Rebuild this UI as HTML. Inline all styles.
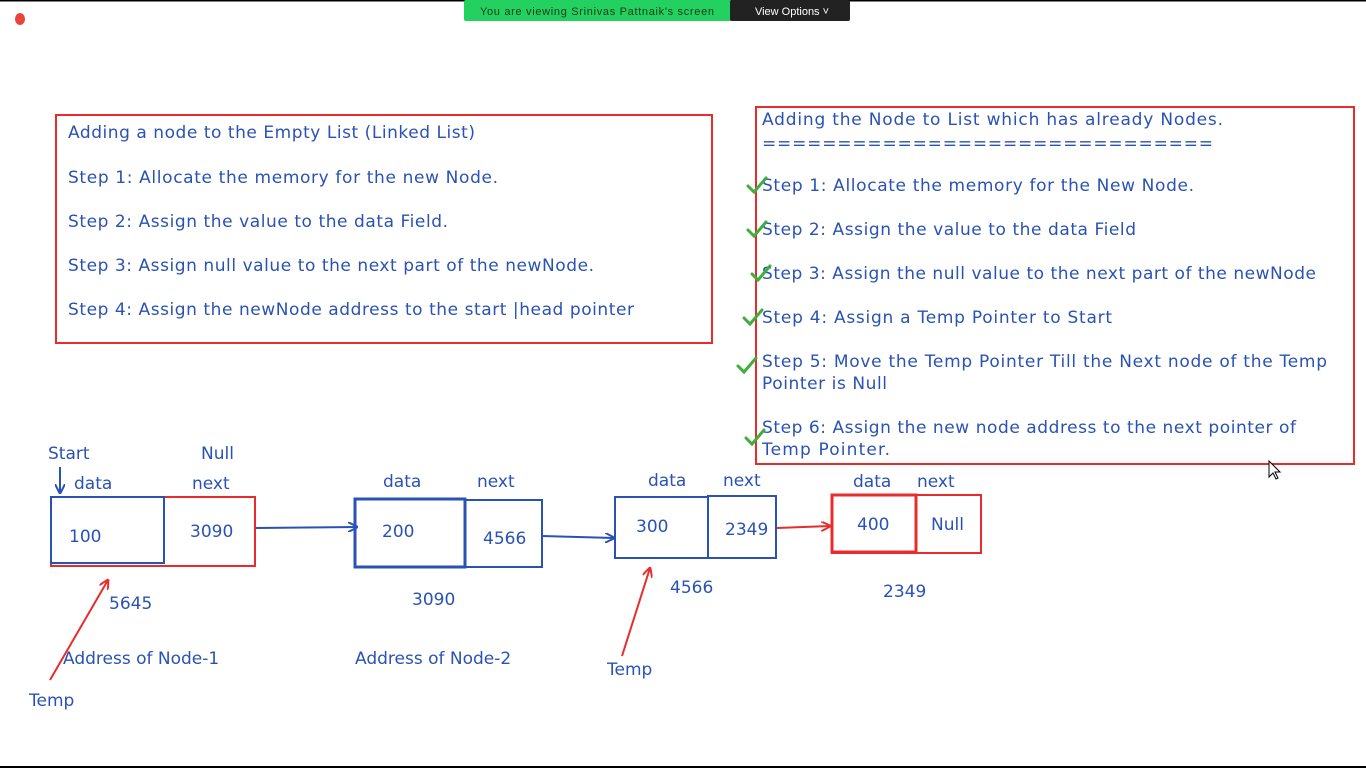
<!DOCTYPE html>
<html><head><meta charset="utf-8"><style>
html,body{margin:0;padding:0;background:#fff;width:1366px;height:768px;overflow:hidden}
svg{display:block}
text{font-family:"DejaVu Sans","Liberation Sans",sans-serif;fill:#2a52b5;font-size:17px}
</style></head><body>
<svg width="1366" height="768" viewBox="0 0 1366 768">
<defs>
<marker id="ab" markerWidth="10" markerHeight="10" refX="9" refY="5" orient="auto" markerUnits="userSpaceOnUse"><path d="M0,0 L10,5 L0,10" fill="none" stroke="#2a52b5" stroke-width="2"/></marker>
<marker id="ar" markerWidth="10" markerHeight="10" refX="9" refY="5" orient="auto" markerUnits="userSpaceOnUse"><path d="M0,0 L10,5 L0,10" fill="none" stroke="#e53030" stroke-width="2"/></marker>
</defs>
<rect x="0" y="0" width="1366" height="1.5" fill="#000"/>
<rect x="0" y="766" width="1366" height="2" fill="#000"/>
<ellipse cx="20" cy="19" rx="5" ry="6" fill="#e8453c"/>
<rect x="464" y="0" width="268" height="21" fill="#23d160" rx="2"/>
<rect x="730" y="0" width="120" height="21" fill="#222" rx="2"/>
<text x="597" y="15" text-anchor="middle" style="font-size:11px;fill:#1a3a1a;font-family:'Liberation Sans',sans-serif" textLength="234">You are viewing Srinivas Pattnaik's screen</text>
<text x="792" y="15" text-anchor="middle" style="font-size:11px;fill:#fff;font-family:'Liberation Sans',sans-serif">View Options ˅</text>

<rect x="56" y="115" width="656" height="228" fill="none" stroke="#e82c2c" stroke-width="2"/>
<text x="68" y="138" textLength="407">Adding a node to the Empty List (Linked List)</text>
<text x="68" y="183" textLength="430">Step 1: Allocate the memory for the new Node.</text>
<text x="68" y="227" textLength="380">Step 2: Assign the value to the data Field.</text>
<text x="68" y="271" textLength="526">Step 3: Assign null value to the next part of the newNode.</text>
<text x="68" y="315" textLength="566">Step 4: Assign the newNode address to the start |head pointer</text>

<rect x="756" y="107" width="598" height="357" fill="none" stroke="#e82c2c" stroke-width="2"/>
<text x="762" y="125" textLength="461">Adding the Node to List which has already Nodes.</text>
<text x="762" y="149" textLength="451">==============================</text>
<text x="762" y="191" textLength="432">Step 1: Allocate the memory for the New Node.</text>
<text x="762" y="235" textLength="374">Step 2: Assign the value to the data Field</text>
<text x="762" y="279" textLength="554">Step 3: Assign the null value to the next part of the newNode</text>
<text x="762" y="323" textLength="350">Step 4: Assign a Temp Pointer to Start</text>
<text x="762" y="367" textLength="565">Step 5: Move the Temp Pointer Till the Next node of the Temp</text>
<text x="762" y="389" textLength="125">Pointer is Null</text>
<text x="762" y="433" textLength="534">Step 6: Assign the new node address to the next pointer of</text>
<text x="762" y="455" textLength="128">Temp Pointer.</text>
<g fill="none" stroke="#3fae3f" stroke-width="3" stroke-linecap="round">
<path d="M748,186 l6,6 l12,-14"/><path d="M748,230 l6,6 l12,-14"/><path d="M752,274 l6,6 l12,-14"/>
<path d="M744,318 l6,6 l12,-14"/><path d="M738,366 l6,6 l12,-14"/><path d="M746,438 l6,6 l12,-14"/>
</g>
<path d="M1269,461 v16 l4,-4 l3,6 l2,-1 l-3,-6 h5 z" fill="#fff" stroke="#000"/>

<!-- node1 -->
<text x="48" y="459">Start</text><text x="201" y="459">Null</text>
<line x1="60" y1="467" x2="60" y2="493" stroke="#2a52b5" stroke-width="2" marker-end="url(#ab)"/>
<text x="74" y="489">data</text><text x="192" y="489">next</text>
<rect x="51" y="497" width="204" height="69" fill="none" stroke="#e82c2c" stroke-width="2"/>
<rect x="51" y="497" width="113" height="66" fill="none" stroke="#2a52b5" stroke-width="2"/>
<text x="69" y="542">100</text><text x="190" y="537">3090</text>
<line x1="256" y1="528" x2="357" y2="527" stroke="#2a52b5" stroke-width="2" marker-end="url(#ab)"/>
<!-- node2 -->
<text x="383" y="487">data</text><text x="477" y="487">next</text>
<rect x="355" y="499" width="110" height="68" fill="none" stroke="#2a52b5" stroke-width="3"/>
<rect x="465" y="500" width="77" height="67" fill="none" stroke="#2a52b5" stroke-width="2"/>
<text x="382" y="537">200</text><text x="483" y="544">4566</text>
<line x1="542" y1="536" x2="614" y2="538" stroke="#2a52b5" stroke-width="2" marker-end="url(#ab)"/>
<!-- node3 -->
<text x="648" y="486">data</text><text x="723" y="486">next</text>
<rect x="615" y="497" width="93" height="61" fill="none" stroke="#2a52b5" stroke-width="2"/>
<rect x="708" y="496" width="68" height="62" fill="none" stroke="#2a52b5" stroke-width="2"/>
<text x="636" y="532">300</text><text x="725" y="535">2349</text>
<line x1="777" y1="528" x2="830" y2="526" stroke="#e82c2c" stroke-width="2" marker-end="url(#ar)"/>
<!-- node4 -->
<text x="853" y="487">data</text><text x="917" y="487">next</text>
<rect x="832" y="495" width="149" height="58" fill="none" stroke="#e82c2c" stroke-width="2"/>
<rect x="832" y="495" width="84" height="57" fill="none" stroke="#e82c2c" stroke-width="3"/>
<text x="857" y="530">400</text><text x="931" y="530">Null</text>

<text x="109" y="609">5645</text><text x="412" y="605">3090</text><text x="670" y="593">4566</text><text x="883" y="597">2349</text>
<text x="63" y="664">Address of Node-1</text><text x="355" y="664">Address of Node-2</text>
<text x="29" y="706">Temp</text><text x="607" y="675">Temp</text>
<line x1="50" y1="680" x2="108" y2="580" stroke="#e82c2c" stroke-width="2" marker-end="url(#ar)"/>
<line x1="622" y1="656" x2="650" y2="568" stroke="#e82c2c" stroke-width="2" marker-end="url(#ar)"/>
</svg>
</body></html>
